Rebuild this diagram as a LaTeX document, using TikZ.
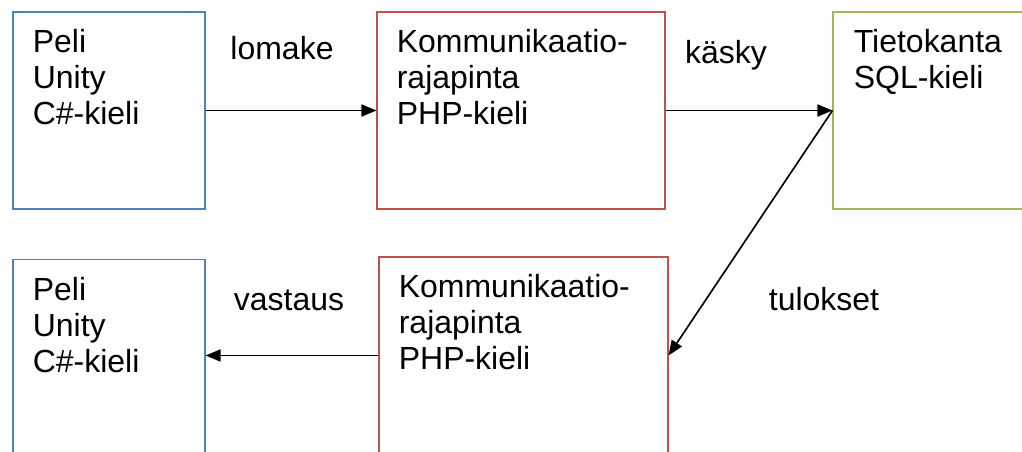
\documentclass[tikz,border=0pt]{standalone}
\usepackage{fontspec}
\setmainfont{Liberation Sans}
\usepackage{tikz}
\usetikzlibrary{arrows.meta,positioning,calc}
\usepackage{xcolor}
\definecolor{boxblue} {RGB}{ 79, 129, 189}
\definecolor{boxred}  {RGB}{192,  80,  77}
\definecolor{boxgreen}{RGB}{155, 187,  89}

\begin{document}
\begin{tikzpicture}[
  every node/.style={font=\fontsize{18.2pt}{20.5pt}\selectfont},
  box/.style={draw,line width=0.6pt,minimum width=5.76cm,minimum height=3.94cm,inner sep=0pt},
  txt/.style={anchor=north west,align=left,inner sep=0pt},
  lbl/.style={anchor=base,inner sep=0pt},
  arr/.style={-{Triangle[length=0.3cm,width=0.24cm]},line width=0.95pt},
]
\useasboundingbox (0,0) rectangle (20.44,-9.04);
\clip (0,0) rectangle (20.44,-9.04);

%% Upper row: game, interface, database
\node[box,draw=boxblue,minimum width=3.84cm] (peli1) at (2.18,-2.21) {};
\node[box,draw=boxred] (php1) at (10.42,-2.21) {};
\node[box,draw=boxgreen] (db) at (19.54,-2.21) {};

\node[txt] (peli1t) at ($(peli1.north west)+(0.40,-0.35)$) {Peli\\Unity\\C\#-kieli};
\node[txt] (php1t) at ($(php1.north west)+(0.40,-0.35)$) {Kommunikaatio-\\rajapinta\\PHP-kieli};
\node[txt] (dbt) at ($(db.north west)+(0.42,-0.35)$) {Tietokanta\\SQL-kieli};

%% Lower row: interface back to game
\node[box,draw=boxblue,minimum width=3.84cm] (peli2) at (2.18,-7.16) {};
\node[box,draw=boxred,minimum width=5.78cm] (php2) at (10.47,-7.11) {};

\node[txt] (peli2t) at ($(peli2.north west)+(0.40,-0.35)$) {Peli\\Unity\\C\#-kieli};
\node[txt] (php2t) at ($(php2.north west)+(0.40,-0.35)$) {Kommunikaatio-\\rajapinta\\PHP-kieli};

%% Connector labels
\node[lbl] (lomake) at (5.64,-1.20) {lomake};
\node[lbl] (kasky) at (14.52,-1.28) {käsky};
\node[lbl] (vastaus) at (5.78,-6.20) {vastaus};
\node[lbl] (tulokset) at (16.48,-6.20) {tulokset};

%% Connectors
\draw[arr] (peli1.east) -- (php1.west);
\draw[arr] (php1.east) -- (db.west);
\draw[arr] (db.west) -- (php2.east);
\draw[arr] (php2.west) -- (peli2.east |- php2.west);

\end{tikzpicture}
\end{document}
